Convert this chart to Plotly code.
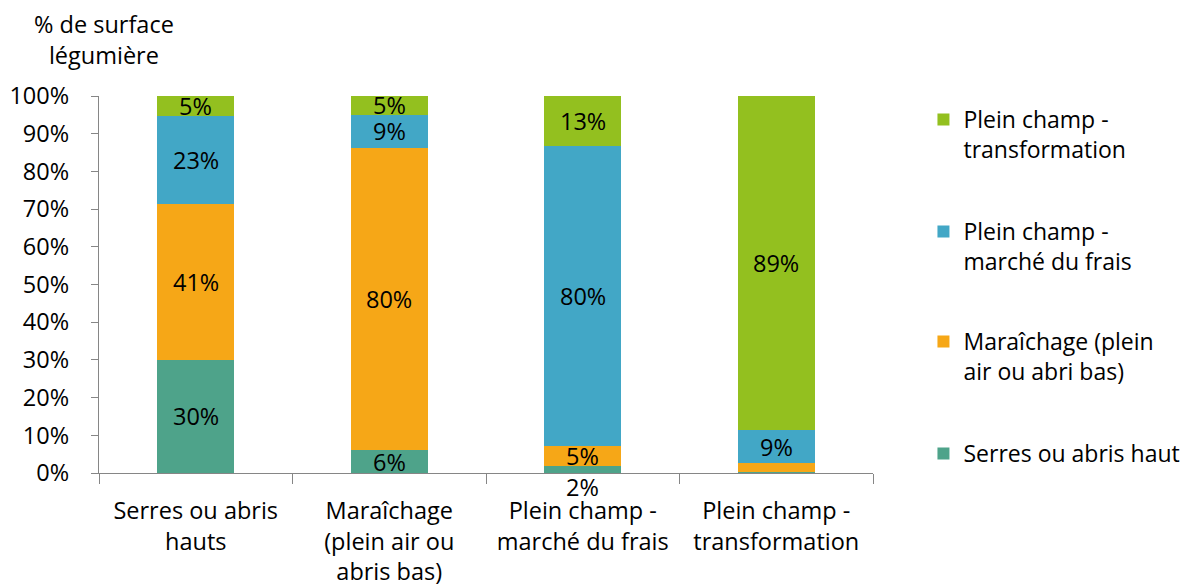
import plotly.graph_objects as go

categories = ["Serres ou abris<br>hauts", "Maraîchage<br>(plein air ou<br>abris bas)",
              "Plein champ -<br>marché du frais", "Plein champ -<br>transformation"]

serres = [30.1, 6.1, 1.9, 0.3]
maraichage = [41.2, 80.1, 5.3, 2.4]
frais = [23.4, 8.8, 79.6, 8.6]
transfo = [5.3, 5.0, 13.2, 88.7]

# which data labels are displayed (per series, per category)
serres_shown = [True, True, True, False]
maraichage_shown = [True, True, True, False]
frais_shown = [True, True, True, True]
transfo_shown = [True, True, True, True]

ytick_vals = list(range(0, 101, 10))
ytick_text = [f"{v}%" for v in ytick_vals]

series = [
    ("Serres ou abris haut", serres, serres_shown, "#4EA38A"),
    ("Maraîchage (plein<br>air ou abri bas)", maraichage, maraichage_shown, "#F6A717"),
    ("Plein champ -<br>marché du frais", frais, frais_shown, "#42A7C6"),
    ("Plein champ -<br>transformation", transfo, transfo_shown, "#93C01F"),
]

FONT = "Open Sans"
FS = 23.5
LFS = 23
H = 588
# top edge (px from top of figure) of each legend entry, bottom series first
legend_tops = [424, 312, 202, 90]

fig = go.Figure()
annotations = []
base = [0.0] * len(categories)
legends = {}
for i, (name, vals, shown, color) in enumerate(series):
    lname = "legend" if i == 0 else f"legend{i + 1}"
    fig.add_trace(go.Bar(
        x=categories, y=vals, name=name, marker_color=color,
        marker_line_width=0, hoverinfo="skip", legend=lname, showlegend=True,
    ))
    legends[lname] = dict(
        xref="container", yref="container", x=0.768, y=1 - legend_tops[i] / H,
        xanchor="left", yanchor="top", valign="top", bgcolor="rgba(0,0,0,0)",
        font=dict(family=FONT, size=LFS, color="black"),
    )
    for j, v in enumerate(vals):
        if shown[j]:
            annotations.append(dict(
                x=categories[j], y=base[j] + v / 2, xref="x", yref="y",
                text=f"{round(v)}%", showarrow=False,
                font=dict(family=FONT, size=FS, color="black"),
                yshift=-18 if v < 3 else 0,
            ))
        base[j] += v

annotations.append(dict(
    x=0.006, y=1.15, xref="paper", yref="paper", text="% de surface<br>légumière",
    showarrow=False, xanchor="center", yanchor="middle",
    font=dict(family=FONT, size=FS, color="black"),
))

fig.update_layout(
    barmode="stack", bargap=0.6, showlegend=True,
    width=1192, height=H,
    margin=dict(l=91, r=327, t=88, b=123),
    paper_bgcolor="white", plot_bgcolor="white",
    font=dict(family=FONT, size=FS, color="black"),
    annotations=annotations,
    **legends,
    xaxis=dict(
        type="category", showline=True, linecolor="#868686", linewidth=1.3,
        ticks="outside", tickson="boundaries", ticklen=10, tickcolor="#868686",
        tickwidth=1.3, showgrid=False, tickfont=dict(family=FONT, size=FS),
        ticklabelstandoff=17, automargin=False,
    ),
    yaxis=dict(
        range=[0, 100], tickmode="array", tickvals=ytick_vals, ticktext=ytick_text,
        showline=True, linecolor="#868686", linewidth=1.3, ticks="outside",
        ticklen=7, tickcolor="#868686", tickwidth=1.3, showgrid=False,
        zeroline=False, tickfont=dict(family=FONT, size=FS), ticklabelstandoff=17,
        automargin=False,
    ),
)

fig.write_html("out.html")
